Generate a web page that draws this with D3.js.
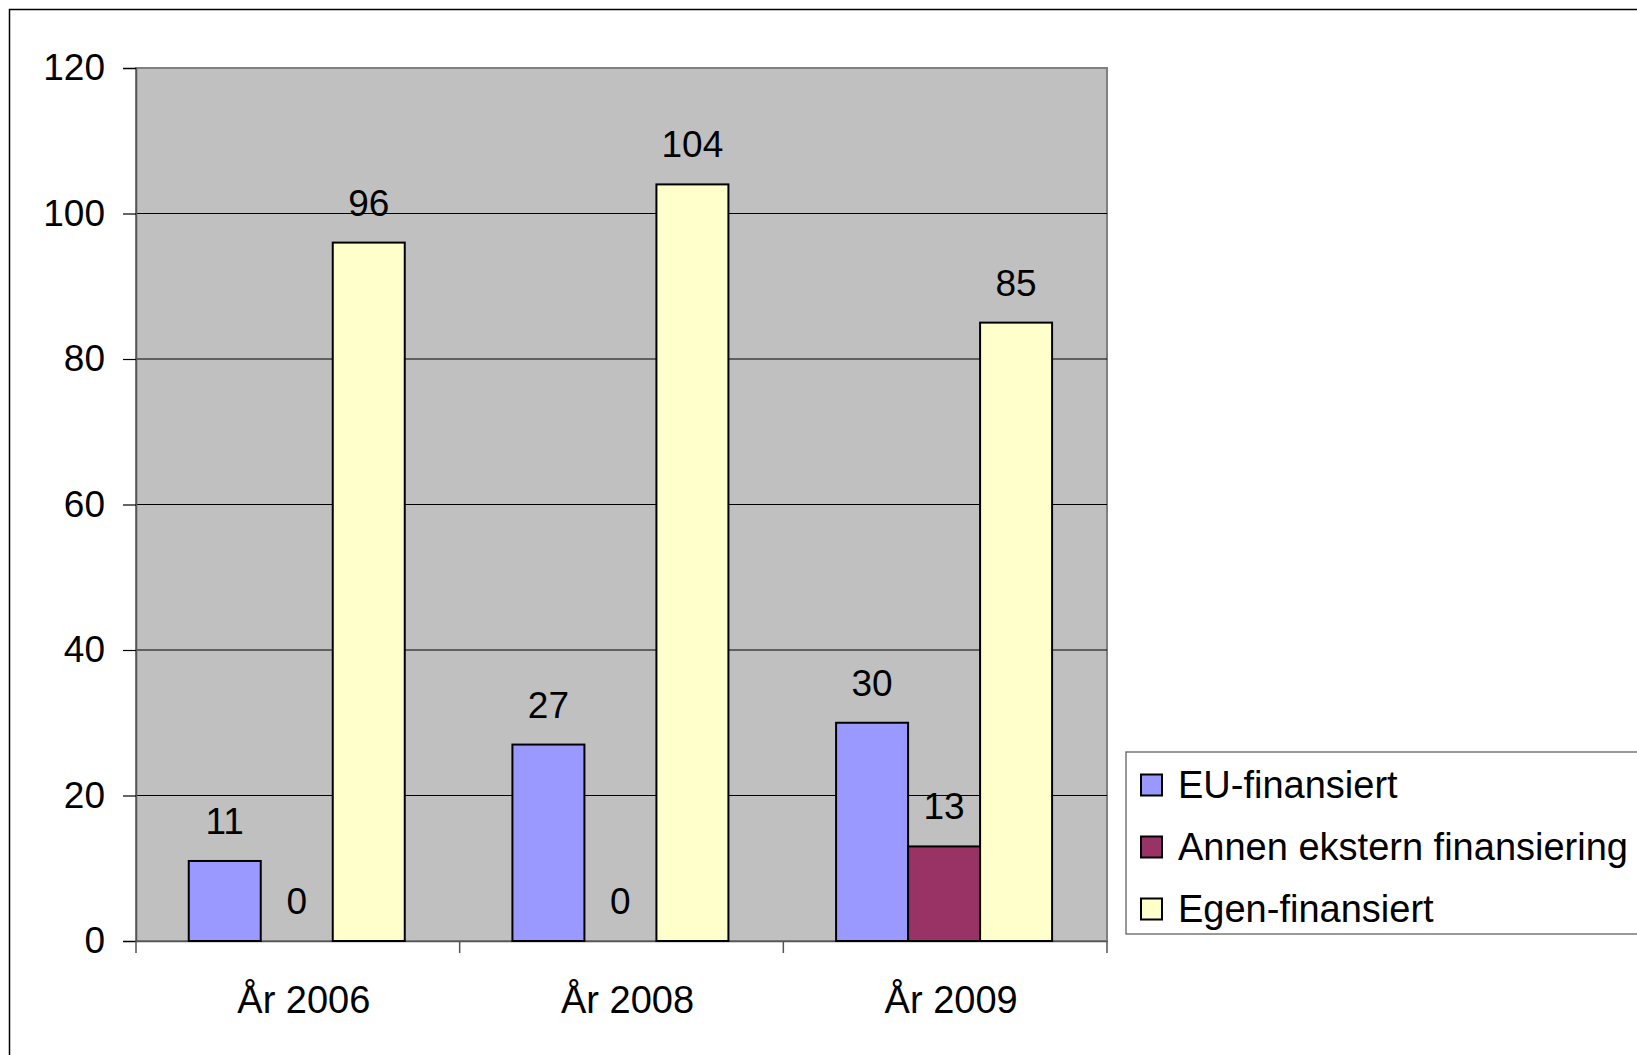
<!DOCTYPE html>
<html><head><meta charset="utf-8">
<script src="https://cdn.jsdelivr.net/npm/d3@7"></script>
<style>
html,body{margin:0;padding:0;background:#fff;}
svg{display:block;font-family:"Liberation Sans",Arial,sans-serif;}
</style></head>
<body>
<svg id="chart" width="1637" height="1055"></svg>
<script>
const categories = ["År 2006", "År 2008", "År 2009"];
const seriesNames = ["EU-finansiert", "Annen ekstern finansiering", "Egen-finansiert"];
const euValues = [11, 27, 30];
const annenValues = [0, 0, 13];
const egenValues = [96, 104, 85];
const seriesColors = ["#9999FF", "#993366", "#FFFFCC"];
const yTicks = [0, 20, 40, 60, 80, 100, 120];

const seriesValues = [euValues, annenValues, egenValues];
const svg = d3.select("#chart");

// outer border
svg.append("rect").attr("x", 9.5).attr("y", 9.5).attr("width", 1700).attr("height", 1100)
  .attr("fill", "none").attr("stroke", "#000").attr("stroke-width", 1.5);

const plot = {left: 136, right: 1107, top: 68, bottom: 941};
const x = d3.scaleBand().domain(categories).range([plot.left, plot.right]).paddingInner(0).paddingOuter(0);
const xs = d3.scaleBand().domain(seriesNames).range([0, x.bandwidth()]).paddingOuter(0.7477).paddingInner(0).align(0.49);
const y = d3.scaleLinear().domain([0, 120]).range([plot.bottom, plot.top]);

// plot background
svg.append("rect").attr("x", plot.left).attr("y", plot.top)
  .attr("width", plot.right - plot.left).attr("height", plot.bottom - plot.top)
  .attr("fill", "#C0C0C0").attr("stroke", "#808080").attr("stroke-width", 2);

// gridlines
svg.append("g").selectAll("line").data(yTicks.filter(t => t > 0 && t < 120)).join("line")
  .attr("x1", plot.left).attr("x2", plot.right)
  .attr("y1", d => y(d)).attr("y2", d => y(d))
  .attr("stroke", "#000").attr("stroke-width", 1);

// y axis
const yAxis = d3.axisLeft(y).tickValues(yTicks).tickSize(13).tickPadding(18);
const gy = svg.append("g").attr("transform", `translate(${plot.left},0)`).call(yAxis);
gy.select(".domain").attr("stroke", "#555").attr("stroke-width", 1.5);
gy.selectAll(".tick line").attr("stroke", "#000").attr("stroke-width", 1.2);
gy.selectAll(".tick text").attr("font-size", 37).attr("fill", "#000")
  .attr("font-family", "Liberation Sans, Arial, sans-serif");

// x axis
const xAxis = d3.axisBottom(x).tickSize(0).tickPadding(45);
const gx = svg.append("g").attr("transform", `translate(0,${plot.bottom})`).call(xAxis);
gx.select(".domain").attr("stroke", "#555").attr("stroke-width", 1.5);
gx.selectAll(".tick text").attr("font-size", 38).attr("fill", "#000").attr("dx", 6)
  .attr("font-family", "Liberation Sans, Arial, sans-serif");
// category boundary ticks
const bounds = [plot.left].concat(categories.map(c => x(c) + x.bandwidth()));
svg.append("g").selectAll("line").data(bounds).join("line")
  .attr("x1", d => d).attr("x2", d => d).attr("y1", plot.bottom).attr("y2", plot.bottom + 12)
  .attr("stroke", "#555").attr("stroke-width", 1.5);

// bars
const groups = svg.append("g").selectAll("g").data(categories).join("g")
  .attr("transform", c => `translate(${x(c)},0)`);
groups.each(function(c, ci) {
  const g = d3.select(this);
  seriesNames.forEach((s, si) => {
    const v = seriesValues[si][ci];
    if (v > 0) {
      g.append("rect").attr("x", xs(s)).attr("y", y(v))
        .attr("width", xs.bandwidth()).attr("height", y(0) - y(v))
        .attr("fill", seriesColors[si]).attr("stroke", "#000").attr("stroke-width", 2);
    }
    g.append("text").attr("x", xs(s) + xs.bandwidth() / 2).attr("y", y(v) - 27)
      .attr("text-anchor", "middle").attr("font-size", 37).attr("fill", "#000")
      .text(v);
  });
});

// legend
const lg = svg.append("g");
lg.append("rect").attr("x", 1126).attr("y", 752).attr("width", 600).attr("height", 182)
  .attr("fill", "#fff").attr("stroke", "#555").attr("stroke-width", 1.2);
seriesNames.forEach((s, i) => {
  const cy = 785 + i * 62;
  lg.append("rect").attr("x", 1141).attr("y", cy - 10.5).attr("width", 21).attr("height", 21)
    .attr("fill", seriesColors[i]).attr("stroke", "#000").attr("stroke-width", 2);
  lg.append("text").attr("x", 1178).attr("y", cy + 13).attr("font-size", 38).attr("fill", "#000").text(s);
});
</script>
</body></html>
